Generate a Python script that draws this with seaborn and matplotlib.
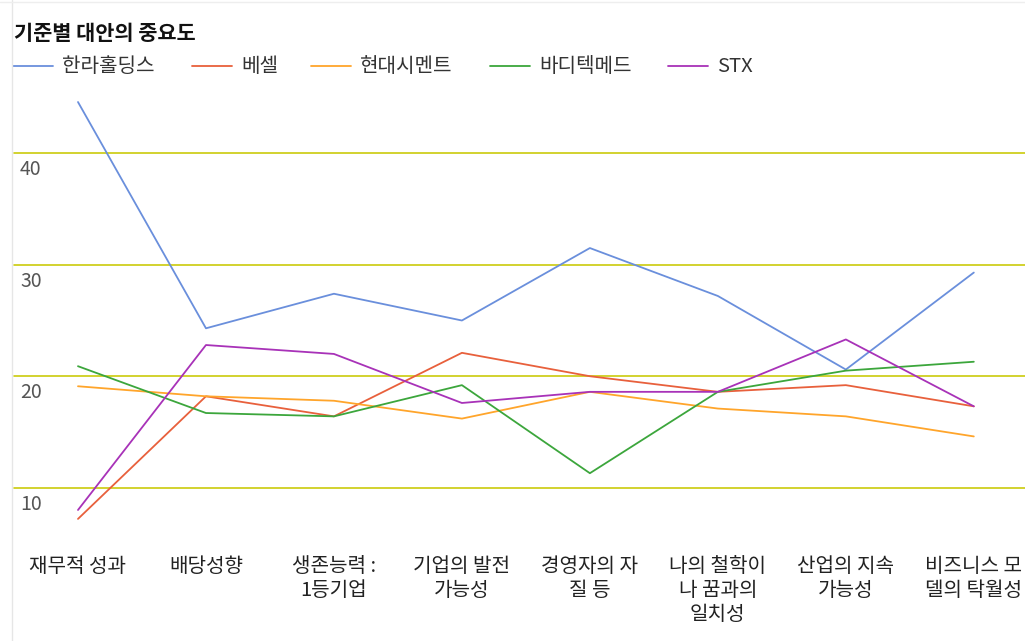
import numpy as np
import pandas as pd
import matplotlib.pyplot as plt
import seaborn as sns
from matplotlib.lines import Line2D

categories = ['재무적 성과', '배당성향', '생존능력 :\n1등기업', '기업의 발전\n가능성',
              '경영자의 자\n질 등', '나의 철학이\n나 꿈과의\n일치성', '산업의 지속\n가능성',
              '비즈니스 모\n델의 탁월성']
companies = ['한라홀딩스', '베셀', '현대시멘트', '바디텍메드', 'STX']
halla = [44.6, 24.3, 27.4, 25.0, 31.5, 27.2, 20.6, 29.3]
vessel = [7.2, 18.2, 16.4, 22.1, 20.0, 18.6, 19.2, 17.3]
hyundai = [19.1, 18.2, 17.8, 16.2, 18.6, 17.1, 16.4, 14.6]
boditech = [20.9, 16.7, 16.4, 19.2, 11.3, 18.6, 20.5, 21.3]
stx = [8.0, 22.8, 22.0, 17.6, 18.6, 18.6, 23.3, 17.3]
yticks = [10, 20, 30, 40]

colors = ['#6a8fdc', '#e8603c', '#ffa52b', '#3ca63c', '#a832b8']

series = [halla, vessel, hyundai, boditech, stx]
df = pd.DataFrame({
    'idx': np.tile(np.arange(len(categories)), len(companies)),
    'value': np.concatenate(series),
    'company': np.repeat(companies, len(categories)),
})

sns.set_style('white')
plt.rcParams['font.family'] = ['Noto Sans CJK KR', 'DejaVu Sans']

W, H = 1025, 641
fig = plt.figure(figsize=(W / 100, H / 100), dpi=100)
# plot area: pixel x 14..1025, y 90..530
ax = fig.add_axes([14 / W, 1 - 530 / H, (W - 14) / W, 440 / H])
ax.set_xlim(-0.5, 7.40)
top_v = 40 + (153.3 - 90) / 11.147
bot_v = 10 - (530 - 487.7) / 11.147
ax.set_ylim(bot_v, top_v)

for v in yticks:
    ax.axhline(v, color='#cfcf1f', lw=1.3, zorder=1)
    ax.text(6 / (W - 14), v - 0.55, str(v),
            transform=ax.get_yaxis_transform(), ha='left', va='top',
            fontsize=14, color='#555555')

sns.lineplot(data=df, x='idx', y='value', hue='company', palette=colors,
             hue_order=companies, sort=False, legend=False, lw=1.3, ax=ax)
for ln in ax.lines:
    ln.set_clip_on(False)

ax.set_xticks([])
ax.set_yticks([])
ax.set_xlabel('')
ax.set_ylabel('')
for s in ax.spines.values():
    s.set_visible(False)

band = (W - 14) / 7.90
for i, lab in enumerate(categories):
    fig.text((14 + (i + 0.5) * band) / W, 1 - 556 / H, lab,
             ha='center', va='top', fontsize=14.5, color='#222222', linespacing=1.18)

fig.text(14 / W, 1 - 33 / H, '기준별 대안의 중요도', ha='left', va='center',
         fontsize=15, fontweight='bold', color='#111111')

leg_x = [13, 192, 311, 490, 668]
for xpos, name, c in zip(leg_x, companies, colors):
    fig.add_artist(Line2D([xpos / W, (xpos + 40) / W], [1 - 66 / H, 1 - 66 / H],
                          color=c, lw=1.3))
    fig.text((xpos + 49) / W, 1 - 66 / H, name, ha='left', va='center',
             fontsize=14.5, color='#333333')

fig.add_artist(Line2D([12 / W, 12 / W], [0, 1], color='#e6e6e6', lw=1))
fig.add_artist(Line2D([0, 1], [1 - 1.5 / H, 1 - 1.5 / H], color='#eeeeee', lw=1))

fig.savefig('out.png', dpi=100)
